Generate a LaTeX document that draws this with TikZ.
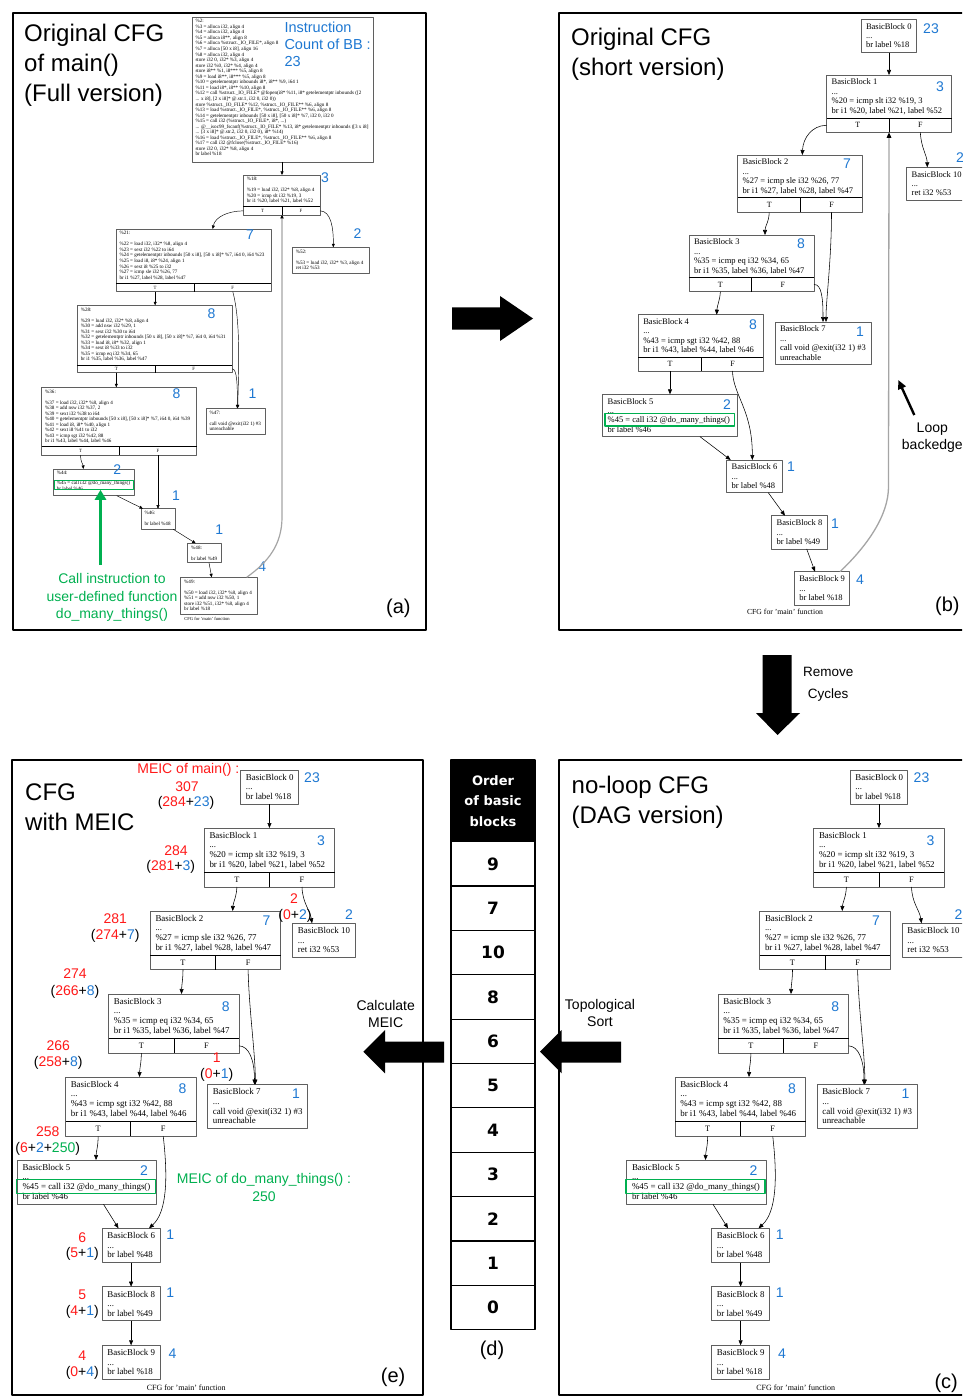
\documentclass[tikz,border=0pt]{standalone}
\usepackage{fontspec}
\setmainfont{Liberation Serif}
\newfontfamily\sansf{Liberation Sans}
\newfontfamily\tabf{DejaVu Sans}
\usetikzlibrary{arrows.meta,fit}
\definecolor{bblue}{RGB}{30,120,210}
\definecolor{rred}{RGB}{255,25,25}
\definecolor{ggreen}{RGB}{0,176,80}
\definecolor{bgray}{RGB}{95,95,95}
\definecolor{lgray}{RGB}{165,165,165}
\newcommand{\fsz}[2]{\fontsize{#1}{#2}\selectfont}
% simple block: name, x1, y1, x2, y2, text style, text
\newcommand{\blk}[7]{%
  \node[blkbox, fit={(#2,#3) (#4,#5)}] (#1) {};
  \node[#6, anchor=north west] (#1-txt) at (#2,#3) {#7};}
% block with T/F row: name, x1, y1, x2, y2, ytf, xdiv, style, text
\newcommand{\tfblk}[9]{%
  \blk{#1}{#2}{#3}{#4}{#5}{#8}{#9}%
  \draw[tfline] (#2,#6) -- (#4,#6);
  \draw[tfline] (#7,#6) -- (#7,#5);
  \node[tflabel] (#1-T) at ({(#2+#7)/2},{(#6+#5)/2}) {T};
  \node[tflabel] (#1-F) at ({(#7+#4)/2},{(#6+#5)/2}) {F};
  \coordinate (#1-Tb) at ({(#2+#7)/2},#5);
  \coordinate (#1-Fb) at ({(#7+#4)/2},#5);
  \coordinate (#1-div) at (#7,#5);}
\tikzset{
 blkbox/.style={draw=bgray, line width=0.8pt, inner sep=0pt, outer sep=0pt},
 tfline/.style={black, line width=0.8pt},
 tflabel/.style={font=\fsz{8.3}{9}, inner sep=0pt},
 atext/.style={font=\fsz{5.1}{5.55}, inner sep=0pt, align=left, xshift=3.3pt, yshift=-2.2pt},
 btext/.style={font=\fsz{8.5}{9.4}, inner sep=0pt, align=left, xshift=4.8pt, yshift=-3.8pt},
 ctext/.style={font=\fsz{8.9}{9.6}, inner sep=0pt, align=left, xshift=5pt, yshift=-4pt},
 greenbox/.style={draw=ggreen, line width=1.2pt, inner sep=0pt},
 edge/.style={line width=0.55pt, -{Triangle[length=5pt,width=4pt]}},
 aedge/.style={line width=0.45pt, -{Triangle[length=3.5pt,width=3pt]}},
 bback/.style={draw=lgray, line width=1.3pt, -{Triangle[length=5.5pt,width=4.5pt,color=black]}},
 aback/.style={draw=lgray, line width=1.2pt, -{Triangle[length=3.5pt,width=3.5pt,color=black]}},
 bnum/.style={font=\sansf\fsz{14}{16}, text=bblue, inner sep=0pt},
 rtxt/.style={font=\sansf\fsz{14}{16}, text=rred, inner sep=0pt},
 ktxt/.style={font=\sansf\fsz{14}{16}, text=black, inner sep=0pt},
 gtxt/.style={font=\sansf\fsz{14}{17.3}, text=ggreen, inner sep=0pt, align=center},
 lab/.style={font=\sansf\fsz{14}{17}, inner sep=0pt, align=center},
 title/.style={font=\sansf\fsz{24}{30}, anchor=base west, inner sep=0pt},
 plab/.style={font=\sansf\fsz{20}{24}, anchor=base west, inner sep=0pt},
 capt/.style={font=\fsz{8}{9}, inner sep=0pt},
 frame/.style={draw=black, line width=2.2pt},
 bigarrow/.style={fill=black},
 rowcell/.style={draw=black, line width=1.2pt, minimum width=84pt, minimum height=44.36pt, inner sep=0pt, font=\tabf\bfseries\fsz{17}{20}},
}
% shared DAG layout for panels (c) and (e)
\newcommand{\dagcfg}[1]{%
\blk{#1b0}{240.7}{770}{298.2}{804}{ctext}{BasicBlock 0\\...\\br label \%18}
\tfblk{#1b1}{204.3}{828}{334.5}{887}{872}{269.5}{ctext}{BasicBlock 1\\...\\\%20 = icmp slt i32 \%19, 3\\br i1 \%20, label \%21, label \%52}
\blk{#1b10}{292.7}{923.3}{355}{957.3}{ctext}{BasicBlock 10\\...\\ret i32 \%53}
\tfblk{#1b2}{150.3}{911}{280.5}{969.7}{955.3}{215.7}{ctext}{BasicBlock 2\\...\\\%27 = icmp sle i32 \%26, 77\\br i1 \%27, label \%28, label \%47}
\tfblk{#1b3}{108.7}{994}{239}{1053}{1038.7}{174}{ctext}{BasicBlock 3\\...\\\%35 = icmp eq i32 \%34, 65\\br i1 \%35, label \%36, label \%47}
\tfblk{#1b4}{65.6}{1077}{196}{1136.3}{1121.7}{130.5}{ctext}{BasicBlock 4\\...\\\%43 = icmp sgt i32 \%42, 88\\br i1 \%43, label \%44, label \%46}
\blk{#1b7}{207.6}{1084.6}{307.7}{1128.8}{ctext}{BasicBlock 7\\...\\call void @exit(i32 1) \#3\\unreachable}
\blk{#1b5}{17.3}{1160}{156.8}{1204.3}{ctext}{BasicBlock 5\\...\\\%45 = call i32 @do\_many\_things()\\br label \%46}
\node[greenbox, fit={(16.5,1179.3) (155.5,1193.3)}] (#1g5) {};
\blk{#1b6}{102.2}{1228.3}{160}{1262.5}{ctext}{BasicBlock 6\\...\\br label \%48}
\blk{#1b8}{102.2}{1286.7}{160}{1320.8}{ctext}{BasicBlock 8\\...\\br label \%49}
\blk{#1b9}{102.2}{1345.3}{160}{1379.6}{ctext}{BasicBlock 9\\...\\br label \%18}
\node[capt] (#1cap) at (186.2,1387.3) {CFG for 'main' function};
\node[bnum] (#1n0) at (312,778) {23};
\node[bnum] (#1n1) at (321,840.3) {3};
\node[bnum] (#1n10) at (349,914.3) {2};
\node[bnum] (#1n2) at (266.5,920.7) {7};
\node[bnum] (#1n3) at (225.7,1006.2) {8};
\node[bnum] (#1n4) at (182.5,1088.7) {8};
\node[bnum] (#1n7) at (296,1093.3) {1};
\node[bnum] (#1n5) at (144,1170.3) {2};
\node[bnum] (#1n6) at (170.3,1235) {1};
\node[bnum] (#1n8) at (170.3,1292.5) {1};
\node[bnum] (#1n9) at (172.4,1353.3) {4};
\draw[edge] (#1b0.south) -- (#1b0.south |- #1b1.north);
\draw[edge] (#1b1-Tb) .. controls (236.5,897) and (233,903) .. (232.7,0 |- #1b2.north);
\draw[edge] (#1b1-Fb) .. controls (302.5,903) and (310,910) .. (312,0 |- #1b10.north);
\draw[edge] (#1b2-Tb) .. controls (183,979) and (181.7,985) .. (181.5,0 |- #1b3.north);
\draw[edge] (#1b2-Fb) .. controls (249,1010) and (255.5,1055) .. (255.3,0 |- #1b7.north);
\draw[edge] (#1b3.east |- #1b3-F) .. controls (249,1046) and (254.5,1060) .. (254.5,0 |- #1b7.north);
\draw[edge] (#1b3-Tb) .. controls (141.3,1063) and (139.7,1068) .. (139.5,0 |- #1b4.north);
\draw[edge] (#1b4-Tb) .. controls (98.3,1146) and (96.2,1151) .. (96,0 |- #1b5.north);
\draw[edge] (#1b4-Fb) .. controls (168,1178) and (167,1212) .. (149,0 |- #1b6.north);
\draw[edge] (103.5,0 |- #1b5.south) -- (118.5,0 |- #1b6.north);
\draw[edge] (#1b6.south) -- (#1b6.south |- #1b8.north);
\draw[edge] (#1b8.south) -- (#1b8.south |- #1b9.north);
}
\begin{document}
\begin{tikzpicture}[x=1pt,y=-1pt,line join=round]
\useasboundingbox (0,0) rectangle (962,1396);
\clip (0,0) rectangle (962,1396);
\fill[white] (0,0) rectangle (962,1396);

% ---------------- frames ----------------
\draw[frame] (13,13) rectangle (426,630);
\draw[frame] (559,13) rectangle (985,630);
\draw[frame] (12,760) rectangle (423,1395);
\draw[frame] (559,760) rectangle (985,1395);

% ---------------- panel (a) ----------------
\node[title] (ta1) at (24,42) {Original CFG};
\node[title] (ta2) at (24,72) {of main()};
\node[title] (ta3) at (24,102) {(Full version)};
\node[plab] (pa) at (386,613) {(a)};
\begin{scope}[tflabel/.style={font=\fsz{4.8}{5.5}, inner sep=0pt}, capt/.style={font=\fsz{4.6}{5}, inner sep=0pt}]
\blk{a0}{192}{17}{373}{162}{atext}{\%2:\\
\%3 = alloca i32, align 4\\
\%4 = alloca i32, align 4\\
\%5 = alloca i8**, align 8\\
\%6 = alloca \%struct.\_IO\_FILE*, align 8\\
\%7 = alloca [50 x i8], align 16\\
\%8 = alloca i32, align 4\\
store i32 0, i32* \%3, align 4\\
store i32 \%0, i32* \%4, align 4\\
store i8** \%1, i8*** \%5, align 8\\
\%9 = load i8**, i8*** \%5, align 8\\
\%10 = getelementptr inbounds i8*, i8** \%9, i64 1\\
\%11 = load i8*, i8** \%10, align 8\\
\%12 = call \%struct.\_IO\_FILE* @fopen(i8* \%11, i8* getelementptr inbounds ([2\\
... x i8], [2 x i8]* @.str.1, i32 0, i32 0))\\
store \%struct.\_IO\_FILE* \%12, \%struct.\_IO\_FILE** \%6, align 8\\
\%13 = load \%struct.\_IO\_FILE*, \%struct.\_IO\_FILE** \%6, align 8\\
\%14 = getelementptr inbounds [50 x i8], [50 x i8]* \%7, i32 0, i32 0\\
\%15 = call i32 (\%struct.\_IO\_FILE*, i8*, ...)\\
... @\_\_isoc99\_fscanf(\%struct.\_IO\_FILE* \%13, i8* getelementptr inbounds ([3 x i8]\\
... [3 x i8]* @.str.2, i32 0, i32 0), i8* \%14)\\
\%16 = load \%struct.\_IO\_FILE*, \%struct.\_IO\_FILE** \%6, align 8\\
\%17 = call i32 @fclose(\%struct.\_IO\_FILE* \%16)\\
store i32 0, i32* \%8, align 4\\
br label \%18}
\tfblk{a18}{243.3}{175}{320}{215}{206.7}{282}{atext}{\%18:\\[5.5pt]\%19 = load i32, i32* \%8, align 4\\\%20 = icmp slt i32 \%19, 3\\br i1 \%20, label \%21, label \%52}
\tfblk{a21}{116}{229}{271.3}{291.7}{283.3}{194.3}{atext}{\%21:\\[5.5pt]\%22 = load i32, i32* \%8, align 4\\\%23 = sext i32 \%22 to i64\\\%24 = getelementptr inbounds [50 x i8], [50 x i8]* \%7, i64 0, i64 \%23\\\%25 = load i8, i8* \%24, align 1\\\%26 = sext i8 \%25 to i32\\\%27 = icmp sle i32 \%26, 77\\br i1 \%27, label \%28, label \%47}
\blk{a52}{292.3}{247.3}{369.3}{273.3}{atext}{\%52:\\[5.5pt]\%53 = load i32, i32* \%3, align 4\\ret i32 \%53}
\tfblk{a28}{77.3}{305.3}{232.3}{372.7}{365}{155.3}{atext}{\%28:\\[5.5pt]\%29 = load i32, i32* \%8, align 4\\\%30 = add nsw i32 \%29, 1\\\%31 = sext i32 \%30 to i64\\\%32 = getelementptr inbounds [50 x i8], [50 x i8]* \%7, i64 0, i64 \%31\\\%33 = load i8, i8* \%32, align 1\\\%34 = sext i8 \%33 to i32\\\%35 = icmp eq i32 \%34, 65\\br i1 \%35, label \%36, label \%47}
\tfblk{a36}{41.7}{387.3}{196.7}{455}{446.7}{119.3}{atext}{\%36:\\[5.5pt]\%37 = load i32, i32* \%8, align 4\\\%38 = add nsw i32 \%37, 2\\\%39 = sext i32 \%38 to i64\\\%40 = getelementptr inbounds [50 x i8], [50 x i8]* \%7, i64 0, i64 \%39\\\%41 = load i8, i8* \%40, align 1\\\%42 = sext i8 \%41 to i32\\\%43 = icmp sgt i32 \%42, 88\\br i1 \%43, label \%44, label \%46}
\blk{a47}{206}{408.3}{265.7}{434}{atext}{\%47:\\[5.5pt]call void @exit(i32 1) \#3\\unreachable}
\blk{a44}{53.3}{469}{134.3}{495.7}{atext}{\%44:\\[4.5pt]\%45 = call i32 @do\_many\_things()\\br label \%46}
\node[greenbox, line width=1pt, fit={(54,480) (133.7,489.3)}] (a44g) {};
\blk{a46}{141}{508.7}{175.7}{529.3}{atext}{\%46:\\[5.5pt]br label \%48}
\blk{a48}{187.7}{543.3}{221.7}{562.7}{atext}{\%48:\\[5.5pt]br label \%49}
\blk{a49}{180.7}{577.3}{257.3}{614.3}{atext}{\%49:\\[5.5pt]\%50 = load i32, i32* \%8, align 4\\\%51 = add nsw i32 \%50, 1\\store i32 \%51, i32* \%8, align 4\\br label \%18}
\node[capt] (acap) at (207,618.5) {CFG for 'main' function};
\end{scope}
\node[bnum, font=\sansf\fsz{14.5}{17}, anchor=north west, align=left] (ainst) at (284.3,22) {Instruction\\Count of BB :\\23};
\node[bnum] (an18) at (325,177.3) {3};
\node[bnum] (an21) at (250,235) {7};
\node[bnum] (an52) at (357.5,234) {2};
\node[bnum] (an28) at (211.5,314) {8};
\node[bnum] (an36) at (176.5,394) {8};
\node[bnum] (an47) at (252.5,394) {1};
\node[bnum] (an44) at (117.3,470) {2};
\node[bnum] (an46) at (176,496) {1};
\node[bnum] (an48) at (219.3,530) {1};
\node[bnum] (an49) at (262.3,567) {4};
\draw[aedge] (a18-div |- a0.south) -- (a18-div |- a18.north);
\draw[aedge] (a18.west |- a18-T) .. controls (228,211) and (215,217) .. (212.7,0 |- a21.north);
\draw[aedge] (a18.east |- a18-F) .. controls (331,211) and (333.5,228) .. (333.3,0 |- a52.north);
\draw[aedge] (a21-Tb) -- (a21-Tb |- a28.north);
\draw[aedge] (a21-Fb) .. controls (241,322) and (238.5,372) .. (237.7,0 |- a47.north);
\draw[aedge] (a28.east |- a28-F) .. controls (237,369) and (237.5,385) .. (237.3,0 |- a47.north);
\draw[aedge] (a28-Tb) -- (a28-Tb |- a36.north);
\draw[aedge] (a36-Tb) .. controls (80.5,462) and (83,464) .. (83.3,0 |- a44.north);
\draw[aedge] (a36-Fb) -- (a36-Fb |- a46.north);
\draw[aedge] (116.7,0 |- a44.south) -- (143,0 |- a46.north);
\draw[aedge] (173.3,0 |- a46.south) -- (195.7,0 |- a48.north);
\draw[aedge] (209,0 |- a48.south) -- (211.7,0 |- a49.north);
\draw[aback] (246.7,0 |- a49.north) .. controls (268,562) and (282,545) .. (282,517) -- (a18-div);
\coordinate (gstart) at (100.5,565);
\draw[ggreen, line width=2.8pt, -{Triangle[length=10pt,width=11pt]}] (gstart) -- (gstart |- a44g.south);
\node[gtxt] (acall) at (112,597.5) {Call instruction to\\user-defined function\\do\_many\_things()};

% ---------------- arrow (a) -> (b) ----------------
\fill[bigarrow] (452,307.5) -- (500,307.5) -- (500,296) -- (533,318.5) -- (500,341) -- (500,329.5) -- (452,329.5) -- cycle;

% ---------------- panel (b) ----------------
\node[title] (tb1) at (571,46) {Original CFG};
\node[title] (tb2) at (571,76) {(short version)};
\node[plab] (pb) at (935,611) {(b)};
\begin{scope}[tflabel/.style={font=\fsz{8}{9}, inner sep=0pt}]
\blk{b0}{861}{19.3}{916.7}{52.7}{btext}{BasicBlock 0\\...\\br label \%18}
\tfblk{b1}{826.7}{75}{951.7}{132.3}{118.3}{889}{btext}{BasicBlock 1\\...\\\%20 = icmp slt i32 \%19, 3\\br i1 \%20, label \%21, label \%52}
\blk{b10}{906.7}{167.3}{985}{200.7}{btext}{BasicBlock 10\\...\\ret i32 \%53}
\tfblk{b2}{737.7}{155}{862.3}{212.3}{197.7}{800.7}{btext}{BasicBlock 2\\...\\\%27 = icmp sle i32 \%26, 77\\br i1 \%27, label \%28, label \%47}
\tfblk{b3}{689}{235}{814}{291.7}{277.3}{751.7}{btext}{BasicBlock 3\\...\\\%35 = icmp eq i32 \%34, 65\\br i1 \%35, label \%36, label \%47}
\tfblk{b4}{638.3}{314.7}{763.3}{371}{357.3}{701.7}{btext}{BasicBlock 4\\...\\\%43 = icmp sgt i32 \%42, 88\\br i1 \%43, label \%44, label \%46}
\blk{b7}{775}{322}{871}{364}{btext}{BasicBlock 7\\...\\call void @exit(i32 1) \#3\\unreachable}
\blk{b5}{602.7}{394.3}{737}{436.7}{btext}{BasicBlock 5\\...\\\%45 = call i32 @do\_many\_things()\\br label \%46}
\node[greenbox, fit={(605,413.3) (734.3,426)}] (b5g) {};
\blk{b6}{726.7}{460}{782.3}{492.7}{btext}{BasicBlock 6\\...\\br label \%48}
\blk{b8}{771.7}{515.7}{827.3}{549}{btext}{BasicBlock 8\\...\\br label \%49}
\blk{b9}{794.3}{571.7}{849.3}{605}{btext}{BasicBlock 9\\...\\br label \%18}
\node[capt, font=\fsz{7.7}{9}] (bcap) at (785,612) {CFG for 'main' function};
\end{scope}
\node[bnum] (bn0) at (931,28.7) {23};
\node[bnum] (bn1) at (940,87) {3};
\node[bnum] (bn10) at (960,158) {2};
\node[bnum] (bn2) at (847,164) {7};
\node[bnum] (bn3) at (801,244) {8};
\node[bnum] (bn4) at (753,325) {8};
\node[bnum] (bn7) at (860,332) {1};
\node[bnum] (bn5) at (727,405) {2};
\node[bnum] (bn6) at (791,467) {1};
\node[bnum] (bn8) at (835,524) {1};
\node[bnum] (bn9) at (860,580) {4};
\draw[edge] (b0.south -| b1-div) -- (b1-div |- b1.north);
\draw[edge] (b1.west |- b1-T) .. controls (812,125.3) and (803,138) .. (802.3,0 |- b2.north);
\draw[edge] (b1-Fb) .. controls (921,148) and (927,155) .. (927.3,0 |- b10.north);
\draw[edge] (b2-Tb) .. controls (769,222) and (765,226) .. (765,0 |- b3.north);
\draw[edge] (b2-Fb) .. controls (831.5,260) and (826,300) .. (826,0 |- b7.north);
\draw[edge] (b3.east |- b3-F) .. controls (822,284) and (823,300) .. (823,0 |- b7.north);
\draw[edge] (b3-Tb) .. controls (720,300) and (717,306) .. (716.7,0 |- b4.north);
\draw[edge] (b4-Tb) -- (b4-Tb |- b5.north);
\draw[edge] (b4-Fb) .. controls (733,395) and (752.5,410) .. (752.3,0 |- b6.north);
\draw[edge] (700,0 |- b5.south) -- (730.7,0 |- b6.north);
\draw[edge] (768.3,0 |- b6.south) -- (785,0 |- b8.north);
\draw[edge] (806.7,0 |- b8.south) -- (815,0 |- b9.north);
\draw[bback] (840,0 |- b9.north) .. controls (868,545) and (888.5,515) .. (888.5,486.7) -- (b1-div);
\node[lab] (loop) at (932.3,438) {Loop\\backedge};
\coordinate (lpa) at (914.3,415);
\draw[line width=2.4pt, -{Triangle[length=9pt,width=8pt]}] (lpa) -- (898.3,380);

% ---------------- remove cycles arrow ----------------
\fill[bigarrow] (762.5,655) -- (791.5,655) -- (791.5,713) -- (800,713) -- (777.5,735) -- (756,713) -- (762.5,713) -- cycle;
\node[lab, font=\sansf\fsz{13.5}{21.7}] (rc) at (828.2,684.2) {Remove\\Cycles};

% ---------------- panel (d) ----------------
\node[fill=black, draw=black, line width=1.2pt, minimum width=84pt, minimum height=81.7pt, inner sep=0pt, text=white, align=center, font=\tabf\bfseries\fsz{13}{20.5}] (dh) at (493,800.85) {Order\\of basic\\blocks};
\foreach \v [count=\k from 0] in {9,7,10,8,6,5,4,3,2,1,0} {
  \node[rowcell] (d\k) at (493,{841.7+44.36*(\k+0.5)}) {\v};
}
\node[font=\sansf\fsz{20}{24}, inner sep=0pt] (pd) at (492,1350) {(d)};

% ---------------- arrows between (c),(d),(e) ----------------
\fill[bigarrow] (444,1041.7) -- (385,1041.7) -- (385,1030) -- (363.3,1051.7) -- (385,1073.3) -- (385,1062.7) -- (444,1062.7) -- cycle;
\node[lab] (calc) at (385.7,1014.2) {Calculate\\MEIC};
\fill[bigarrow] (621,1041.7) -- (561.7,1041.7) -- (561.7,1030) -- (540,1051.7) -- (561.7,1073.3) -- (561.7,1062.7) -- (621,1062.7) -- cycle;
\node[lab] (topo) at (600,1012.5) {Topological\\Sort};

% ---------------- panel (c) ----------------
\node[title] (tc1) at (571.5,793) {no-loop CFG};
\node[title] (tc2) at (571.5,823) {(DAG version)};
\node[plab] (pc) at (934.3,1388) {(c)};
\begin{scope}[xshift=609.5pt]
\dagcfg{c}
\end{scope}

% ---------------- panel (e) ----------------
\node[title] (te1) at (25,800) {CFG};
\node[title] (te2) at (25,830) {with MEIC};
\node[plab] (pe) at (380.7,1382) {(e)};
\dagcfg{e}
\node[rtxt] (mm1) at (188.3,770) {MEIC of main() :};
\node[rtxt] (mm2) at (187,786.7) {307};
\node[ktxt] (mm3) at (186,803.3) {(\textcolor{rred}{284}+\textcolor{bblue}{23})};
\node[rtxt] (m1a) at (176,850.7) {284};
\node[ktxt] (m1b) at (170.7,866.7) {(\textcolor{rred}{281}+\textcolor{bblue}{3})};
\node[rtxt] (m10a) at (294,898.3) {2};
\node[ktxt] (m10b) at (295,915.7) {(\textcolor{rred}{0}+\textcolor{bblue}{2})};
\node[rtxt] (m2a) at (115.3,918.3) {281};
\node[ktxt] (m2b) at (115.3,936) {(\textcolor{rred}{274}+\textcolor{bblue}{7})};
\node[rtxt] (m3a) at (75,974) {274};
\node[ktxt] (m3b) at (75,991.7) {(\textcolor{rred}{266}+\textcolor{bblue}{8})};
\node[rtxt] (m4a) at (58.3,1046) {266};
\node[ktxt] (m4b) at (58.3,1063.3) {(\textcolor{rred}{258}+\textcolor{bblue}{8})};
\node[rtxt] (m7a) at (216.7,1057.3) {1};
\node[ktxt] (m7b) at (216.7,1075) {(\textcolor{rred}{0}+\textcolor{bblue}{1})};
\node[rtxt] (m5a) at (47.7,1131.7) {258};
\node[ktxt] (m5b) at (47.7,1149) {(\textcolor{rred}{6}+\textcolor{bblue}{2}+\textcolor{ggreen}{250})};
\node[gtxt] (mdo) at (264,1187.5) {MEIC of do\_many\_things() :\\250};
\node[rtxt] (m6a) at (82.3,1237.3) {6};
\node[ktxt] (m6b) at (82.3,1254) {(\textcolor{rred}{5}+\textcolor{bblue}{1})};
\node[rtxt] (m8a) at (82.3,1294.3) {5};
\node[ktxt] (m8b) at (82.3,1311.7) {(\textcolor{rred}{4}+\textcolor{bblue}{1})};
\node[rtxt] (m9a) at (82.3,1356) {4};
\node[ktxt] (m9b) at (82.3,1373.3) {(\textcolor{rred}{0}+\textcolor{bblue}{4})};
\end{tikzpicture}
\end{document}
